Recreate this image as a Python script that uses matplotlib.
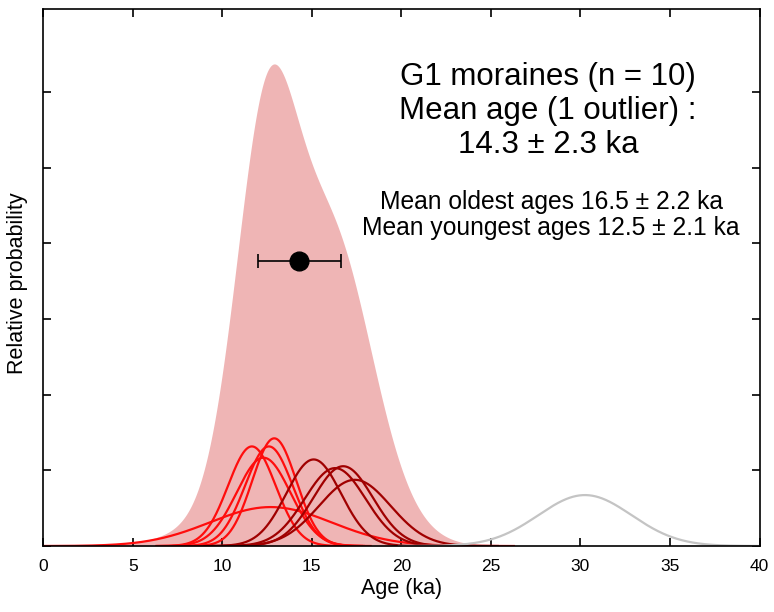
import numpy as np
import matplotlib.pyplot as plt

plt.rcParams['font.family'] = ['Liberation Sans', 'DejaVu Sans']

# Individual exposure ages (ka) and 1-sigma uncertainties
young_ages = [12.9, 11.65, 12.6, 12.3, 12.7]
young_sigma = [1.23, 1.33, 1.33, 1.5, 3.4]
old_ages = [15.1, 16.3, 16.75, 17.4]
old_sigma = [1.53, 1.7, 1.66, 2.0]
outlier_age = [30.25]
outlier_sigma = [2.6]

mean_age = 14.3
mean_err = 2.3
mean_y = 3.77

scale = 4.39  # probability density -> plot units
x = np.linspace(0, 40, 2001)


def gauss(mu, s):
    return scale * np.exp(-0.5 * ((x - mu) / s) ** 2) / (s * np.sqrt(2 * np.pi))


fig = plt.figure(figsize=(7.74, 6.12), dpi=100)
ax = fig.add_axes([0.0559, 0.1078, 0.9254, 0.8775])

# summed probability (external uncertainties, a bit wider than the single curves)
total = np.zeros_like(x)
for mu, s in zip(young_ages + old_ages, young_sigma + old_sigma):
    widen = 1.0 if s > 3 else 1.2
    total += gauss(mu, s * widen)
ax.fill_between(x, 0, total * 1.17, color='#efb5b5', lw=0, zorder=1)


def draw(mu, s, color):
    m = (x > mu - 4 * s) & (x < mu + 4 * s)
    ax.plot(x[m], gauss(mu, s)[m], color=color, lw=1.6, zorder=2)


for mu, s in zip(young_ages, young_sigma):
    draw(mu, s, '#ff0d0d')
for mu, s in zip(old_ages, old_sigma):
    draw(mu, s, '#a00000')
for mu, s in zip(outlier_age, outlier_sigma):
    draw(mu, s, '#c4c4c4')

ax.errorbar([mean_age], [mean_y], xerr=[mean_err], fmt='o', color='black',
            ms=13.5, capsize=5, elinewidth=1.2, capthick=1.2, zorder=4)

ax.set_xlim(0, 40)
ax.set_ylim(0, 7.1)
ax.set_xticks(np.arange(0, 41, 5))
ax.set_yticks(np.arange(0, 7, 1))
ax.set_yticklabels([])
ax.tick_params(direction='in', top=True, right=True, length=6, width=1.2,
               labelsize=12.5, pad=9)
for sp in ax.spines.values():
    sp.set_linewidth(1.2)

ax.set_xlabel('Age (ka)', fontsize=15.5, labelpad=3)
ax.set_ylabel('Relative probability', fontsize=15.5)
ax.yaxis.set_label_coords(-0.022, 0.489)

W, H = 774, 612
big = ['G1 moraines (n = 10)', 'Mean age (1 outlier) :', '14.3 \u00b1 2.3 ka']
for line, yb in zip(big, [85, 119, 153]):
    fig.text(548 / W, 1 - yb / H, line, ha='center', va='baseline', fontsize=22.5)
small = ['Mean oldest ages 16.5 \u00b1 2.2 ka', 'Mean youngest ages 12.5 \u00b1 2.1 ka']
for line, yb in zip(small, [209, 235]):
    fig.text(551 / W, 1 - yb / H, line, ha='center', va='baseline', fontsize=17.7)

fig.savefig('out.png', dpi=100)
